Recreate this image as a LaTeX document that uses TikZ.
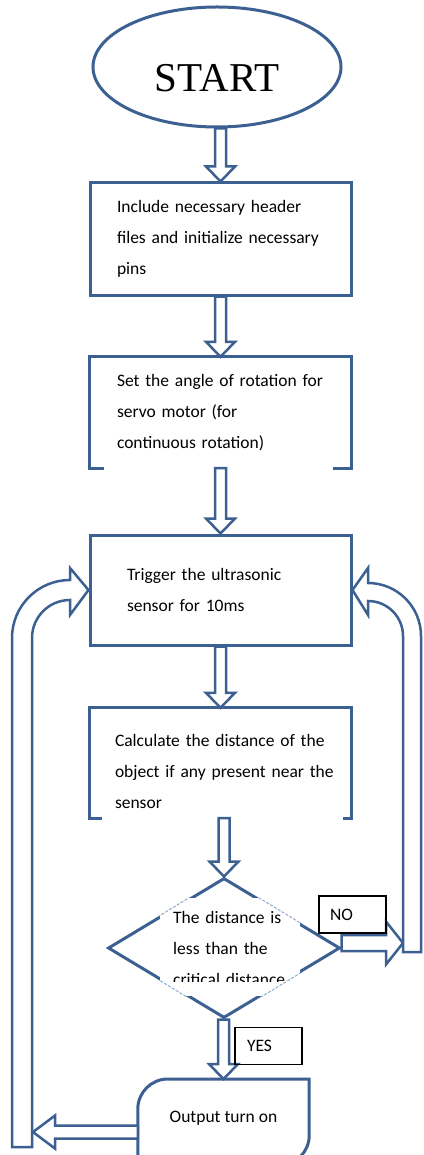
\documentclass[tikz,border=0pt]{standalone}
\usepackage{fontspec}
\setmainfont{Carlito}
\newfontfamily\startfont{Liberation Serif}
\usetikzlibrary{shapes.geometric,calc}
\definecolor{fb}{RGB}{60,96,145}
\definecolor{fl}{RGB}{140,170,210}
\tikzset{
  txt/.style={font=\fontsize{17.5}{31}\selectfont, align=left},
  box/.style={txt, minimum width=261pt, inner xsep=27pt, text width=207pt, inner ysep=0pt},
  bline/.style={draw=fb, line width=3pt, line join=miter},
  barrow/.style={draw=fb, line width=2.5pt, fill=white, line join=miter},
  lbl/.style={draw=black, line width=1.5pt, font=\fontsize{17.5}{20}\selectfont, minimum height=37pt, inner ysep=0pt, align=left},
}
\newcommand\blockdown[2]{\draw[barrow] let \p1=(#1), \p2=(#2) in
  (\x2-5.5pt,\y1) -- (\x2-5.5pt,\y2+15pt) -- (\x2-14.5pt,\y2+15pt) -- (\x2,\y2)
  -- (\x2+14.5pt,\y2+15pt) -- (\x2+5.5pt,\y2+15pt) -- (\x2+5.5pt,\y1) -- cycle;}
\begin{document}
\begin{tikzpicture}[x=1pt,y=1pt]
\useasboundingbox (0,0) rectangle (423,-1155);
\fill[white] (0,0) rectangle (423,-1155);

% start
\node[ellipse, draw=fb, line width=3pt, minimum width=248pt, minimum height=120pt, inner sep=0pt,
  font=\startfont\fontsize{41}{41}\selectfont, text height=50pt, text depth=0pt] (start) at (217,-67) {START};

% boxes
\node[box, draw=fb, line width=3pt, minimum height=112pt] (b1) at (220.5,-239)
  {\mbox{Include necessary header}\\\mbox{files and initialize necessary}\\pins};
\node[box, minimum height=111pt] (b2) at (220.5,-412.5)
  {\mbox{Set the angle of rotation for}\\\mbox{servo motor (for}\\\mbox{continuous rotation)}};
\draw[bline] ($(b2.south west)+(14,0)$) -- (b2.south west) -- (b2.north west) -- (b2.north east) -- (b2.south east) -- ++(-18,0);
\node[box, draw=fb, line width=3pt, minimum height=110pt, inner xsep=37pt, text width=187pt] (b3) at (220.5,-590)
  {\mbox{Trigger the ultrasonic}\\\mbox{sensor for 10ms}};
\node[box, minimum height=110pt, inner xsep=25pt, text width=211pt, text height=30pt] (b4) at (220.5,-763)
  {\mbox{Calculate the distance of the}\\\mbox{object if any present near the}\\sensor};
\draw[bline] ($(b4.south west)+(12,0)$) -- (b4.south west) -- (b4.north west) -- (b4.north east) -- (b4.south east) -- ++(-8,0);

% decision
\node[diamond, draw=fb, line width=3pt, minimum width=232pt, minimum height=140pt, inner sep=0pt] (dia) at (224,-948) {};
\begin{scope}
  \fill[white] (160,-898) rectangle (300,-996);
  \clip (160,-898) rectangle (300,-996);
  \draw[fl, line width=1pt, dash pattern=on 3pt off 1.5pt] (dia.north) -- (dia.east) -- (dia.south) -- (dia.west) -- cycle;
\end{scope}
\begin{scope}
  \clip (160,-898) rectangle (300,-981);
  \node[txt, inner sep=0pt, text width=130pt, anchor=north west] (diat) at (173,-911)
    {\mbox{The distance is}\\\mbox{less than the}\\\mbox{critical distance}};
\end{scope}

% output
\node[txt, minimum width=171pt, minimum height=86pt, anchor=north, text height=13pt, text depth=13pt, inner sep=0pt] (out) at (223.5,-1079) {Output turn on};
\draw[bline] let \p1=(out.north west), \p2=(out.south east) in
  (\x1,\y2) -- (\x1,\y1-30pt) arc[start angle=180,end angle=90,radius=30]
  -- (\x2,\y1) -- (\x2,\y2+30pt) arc[start angle=0,end angle=-90,radius=30] -- cycle;

% down arrows
\blockdown{start.south}{b1.north}
\blockdown{b1.south}{b2.north}
\blockdown{b2.south}{b3.north}
\blockdown{b3.south}{b4.north}
\blockdown{b4.south}{dia.north}
\blockdown{dia.south}{out.north}

% NO arrow
\coordinate (rb) at (403,-943);
\draw[barrow] let \p1=(dia.east), \p2=(rb) in
  (\x1,\y2+8pt) -- (\x2-17pt,\y2+8pt) -- (\x2-17pt,\y2+21.5pt) -- (\x2,\y2)
  -- (\x2-17pt,\y2-21.5pt) -- (\x2-17pt,\y2-8pt) -- (\x1,\y2-8pt) -- cycle;

% right loop back
\draw[barrow] let \p1=(b3.east) in
  (403,-952) -- (421,-952) -- (421,-636) arc[start angle=0,end angle=90,radius=53]
  -- (368,-568) -- (\x1,\y1) -- (368,-615) -- (368,-601)
  arc[start angle=90,end angle=0,radius=35] -- cycle;

% left loop back
\draw[barrow] let \p1=(b3.west) in
  (32,-1147) -- (12,-1147) -- (12,-638) arc[start angle=180,end angle=90,radius=58]
  -- (70,-568) -- (\x1,\y1) -- (70,-615) -- (70,-600)
  arc[start angle=90,end angle=180,radius=38] -- cycle;

% bottom arrow to left loop
\coordinate (lb) at (33,-1132);
\draw[barrow] let \p1=(out.west), \p2=(lb) in
  (\x1,\y2+6.5pt) -- (\x2+22pt,\y2+6.5pt) -- (\x2+22pt,\y2+16.5pt) -- (\x2,\y2)
  -- (\x2+22pt,\y2-16.5pt) -- (\x2+22pt,\y2-6.5pt) -- (\x1,\y2-6.5pt) -- cycle;

% labels
\node[lbl, minimum width=67pt, inner xsep=11pt, text width=45pt] (no) at (352.5,-914.5) {NO};
\node[lbl, minimum width=67pt, inner xsep=12pt, text width=43pt] (yes) at (268.5,-1046) {YES};
\end{tikzpicture}
\end{document}
